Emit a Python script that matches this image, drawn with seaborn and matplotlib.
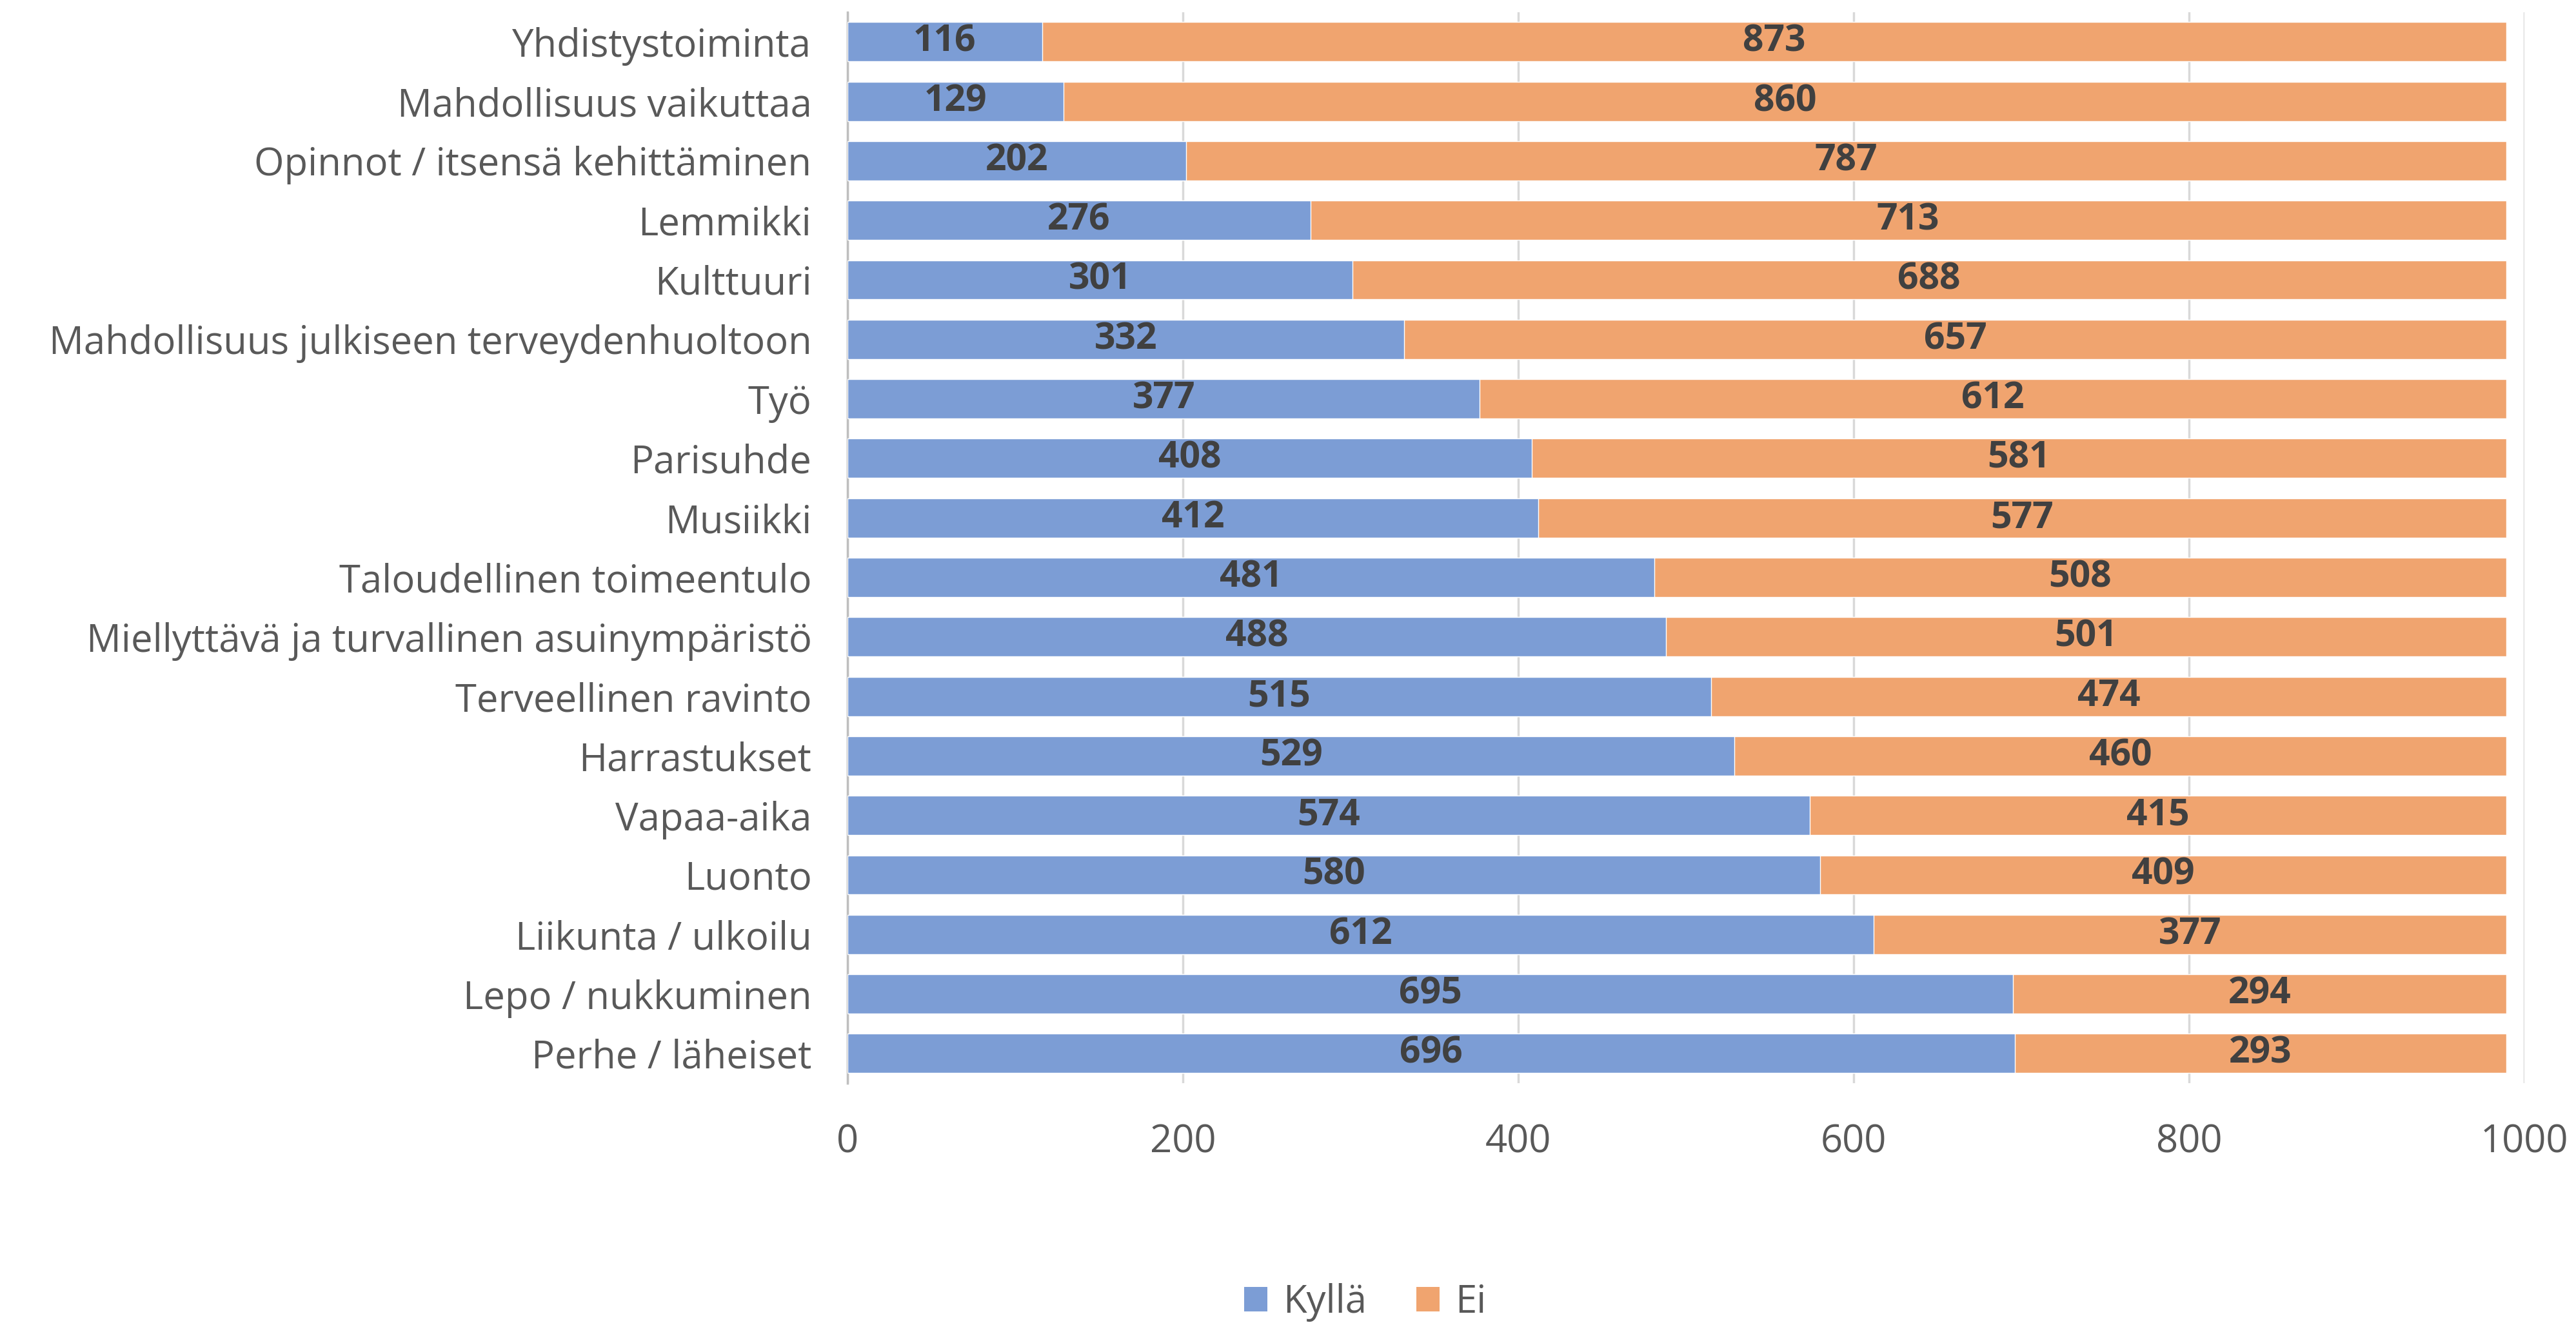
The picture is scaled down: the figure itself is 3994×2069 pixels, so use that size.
import matplotlib
matplotlib.use("Agg")
import matplotlib.pyplot as plt
import seaborn as sns
import pandas as pd
from matplotlib.patches import Patch

categories = [
    "Yhdistystoiminta", "Mahdollisuus vaikuttaa", "Opinnot / itsensä kehittäminen",
    "Lemmikki", "Kulttuuri", "Mahdollisuus julkiseen terveydenhuoltoon", "Työ",
    "Parisuhde", "Musiikki", "Taloudellinen toimeentulo",
    "Miellyttävä ja turvallinen asuinympäristö", "Terveellinen ravinto",
    "Harrastukset", "Vapaa-aika", "Luonto", "Liikunta / ulkoilu",
    "Lepo / nukkuminen", "Perhe / läheiset",
]
kylla = [116, 129, 202, 276, 301, 332, 377, 408, 412, 481, 488, 515, 529, 574, 580, 612, 695, 696]
ei = [873, 860, 787, 713, 688, 657, 612, 581, 577, 508, 501, 474, 460, 415, 409, 377, 294, 293]
series_names = ["Kyllä", "Ei"]
xticks = [0, 200, 400, 600, 800, 1000]

BLUE = "#7C9DD5"
ORANGE = "#F0A46F"
TXT = "#595959"
LBL = "#404040"

df = pd.DataFrame({"cat": categories, "kylla": kylla, "ei": ei})
df["total"] = df["kylla"] + df["ei"]

sns.set_theme(style="white")
plt.rcParams["font.family"] = ["Open Sans", "DejaVu Sans"]

fig = plt.figure(figsize=(39.94, 20.69), dpi=100)
ax = fig.add_axes([0.329, 0.188, 0.651, 0.803])

sns.barplot(data=df, y="cat", x="total", orient="h", color=ORANGE,
            width=0.66, saturation=1, ax=ax, zorder=2)
sns.barplot(data=df, y="cat", x="kylla", orient="h", color=BLUE,
            width=0.66, saturation=1, ax=ax, zorder=3)

fs = 43
for i, (k, e) in enumerate(zip(df["kylla"], df["ei"])):
    ax.text(k / 2, i, f"{k}", ha="center", va="center", fontsize=41,
            fontweight="bold", color=LBL, zorder=5)
    ax.text(k + e / 2, i, f"{e}", ha="center", va="center", fontsize=41,
            fontweight="bold", color=LBL, zorder=5)

ax.set_xlim(0, 1000)
ax.set_ylim(len(categories) - 0.5, -0.5)
ax.set_xticks(xticks)
ax.set_xticklabels([str(t) for t in xticks])
ax.xaxis.grid(True, color="#D9D9D9", linewidth=2.5, zorder=0)
ax.set_axisbelow(True)
ax.yaxis.grid(False)
for s in ["top", "right", "bottom"]:
    ax.spines[s].set_visible(False)
ax.spines["left"].set_color("#BFBFBF")
ax.spines["left"].set_linewidth(2.5)
ax.tick_params(axis="both", length=0, labelsize=fs, colors=TXT)
ax.tick_params(axis="y", pad=40)
ax.tick_params(axis="x", pad=44)
ax.set_xlabel("")
ax.set_ylabel("")

handles = [Patch(facecolor=BLUE, edgecolor="none"), Patch(facecolor=ORANGE, edgecolor="none")]
fig.legend(handles, series_names, loc="lower center", bbox_to_anchor=(0.53, -0.017),
           ncol=2, frameon=False, fontsize=fs, labelcolor=TXT,
           handlelength=0.6, handleheight=0.6, handletextpad=0.4, columnspacing=1.3)

fig.savefig("out.png", dpi=100, facecolor="white")
